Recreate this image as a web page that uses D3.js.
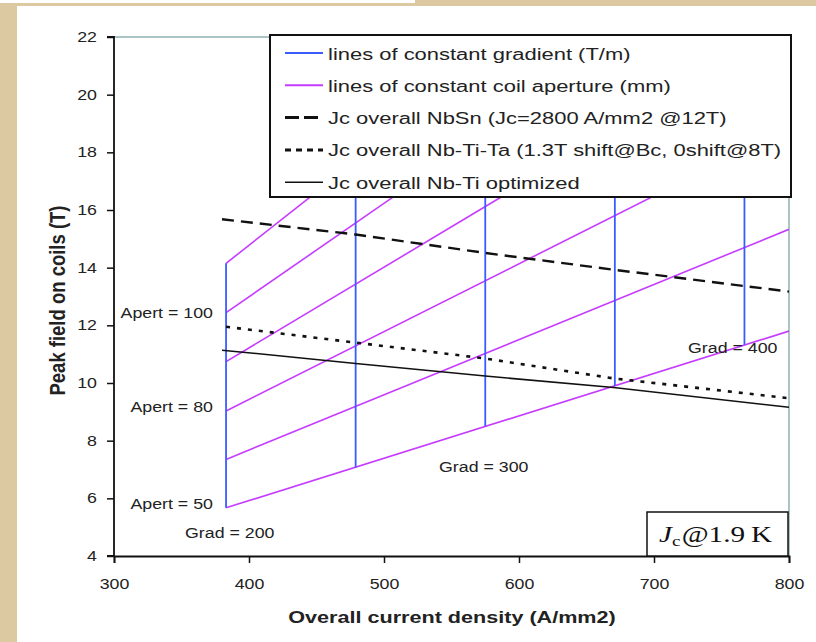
<!DOCTYPE html>
<html>
<head>
<meta charset="utf-8">
<script src="https://cdn.jsdelivr.net/npm/d3@7"></script>
<style>
  body { margin: 0; background: #dcc9a2; }
  svg { display: block; }
</style>
</head>
<body>
<div id="chart-area"></div>
<script>
// axis ticks
const xTicks = [300, 400, 500, 600, 700, 800];
const yTicks = [4, 6, 8, 10, 12, 14, 16, 18, 20, 22];

// lines of constant gradient (vertical, at fixed current density)
const gradValues = [200, 250, 300, 350, 400];
const gradJ = [383, 479, 575, 671, 767];
const gradLow = [5.67, 7.07, 8.5, 9.9, 11.33];
const gradHigh = [14.15, 17.7, 21.2, 22, 22];

// lines of constant coil aperture (start at J=383)
const apertStartJ = [383, 383, 383, 383, 383, 383];
const apertStartB = [5.67, 7.35, 9.03, 10.74, 12.44, 14.15];
const apertEndJ = [800, 800, 800, 785, 678, 596];
const apertEndB = [11.8, 15.33, 18.84, 22, 22, 22];

// Jc overall curves
const nbsnJ = [380, 479, 575, 670, 800];
const nbsnB = [15.68, 15.15, 14.51, 13.93, 13.17];
const nbtitaJ = [383, 479, 575, 670, 800];
const nbtitaB = [11.95, 11.4, 10.85, 10.16, 9.47];
const nbtiJ = [380, 479, 575, 670, 800];
const nbtiB = [11.14, 10.68, 10.24, 9.84, 9.16];

const legendLabels = [
  'lines of constant gradient (T/m)',
  'lines of constant coil aperture (mm)',
  'Jc overall NbSn (Jc=2800 A/mm2 @12T)',
  'Jc overall Nb-Ti-Ta (1.3T shift@Bc, 0shift@8T)',
  'Jc overall Nb-Ti optimized',
];

let width = 816;
let height = 642;
let blue = '#3a5cff';
let magenta = '#c63cff';
let frameColor = '#8fb3b0';
let font = 'Liberation Sans, Arial, sans-serif';
let stretch = 1.27; //the picture text is wider than it is tall

let xScale = d3.scaleLinear().domain([300, 800]).range([114, 789]);
let yScale = d3.scaleLinear().domain([4, 22]).range([556, 37]);

let chart = d3
  .select('#chart-area')
  .append('svg')
  .attr('width', width)
  .attr('height', height);

//parchment background and white panel
chart.append('rect').attr('width', width).attr('height', height).attr('fill', '#dcc9a2');
chart.append('rect').attr('x', 0).attr('y', 0).attr('width', 415).attr('height', 3).attr('fill', '#fff');
chart.append('rect').attr('x', 17).attr('y', 6).attr('width', width - 17).attr('height', height - 6).attr('fill', '#fff');

chart
  .append('clipPath')
  .attr('id', 'plot-clip')
  .append('rect')
  .attr('x', xScale(300))
  .attr('y', yScale(22))
  .attr('width', xScale(800) - xScale(300))
  .attr('height', yScale(4) - yScale(22));

//top and right frame
chart
  .append('path')
  .attr('d', `M${xScale(300)},${yScale(22)}H${xScale(800)}V${yScale(4)}`)
  .attr('fill', 'none')
  .attr('stroke', frameColor)
  .attr('stroke-width', 1.5);

let plot = chart.append('g').attr('clip-path', 'url(#plot-clip)');
let line = d3
  .line()
  .x((d) => xScale(d[0]))
  .y((d) => yScale(d[1]));

//aperture lines
plot
  .selectAll('.apert')
  .data(apertStartB)
  .enter()
  .append('path')
  .attr('class', 'apert')
  .attr('d', (d, i) => line([[apertStartJ[i], d], [apertEndJ[i], apertEndB[i]]]))
  .attr('fill', 'none')
  .attr('stroke', magenta)
  .attr('stroke-width', 1.6);

//gradient lines
plot
  .selectAll('.grad')
  .data(gradValues)
  .enter()
  .append('path')
  .attr('class', 'grad')
  .attr('d', (d, i) => line([[gradJ[i], gradLow[i]], [gradJ[i], gradHigh[i]]]))
  .attr('fill', 'none')
  .attr('stroke', blue)
  .attr('stroke-width', 1.8);

//Jc curves
let curves = [
  { j: nbsnJ, b: nbsnB, dash: '12,7', w: 2.4 },
  { j: nbtitaJ, b: nbtitaB, dash: '4,7', w: 2.6 },
  { j: nbtiJ, b: nbtiB, dash: null, w: 1.5 },
];
curves.forEach((c) => {
  plot
    .append('path')
    .attr('d', line(c.j.map((v, i) => [v, c.b[i]])))
    .attr('fill', 'none')
    .attr('stroke', '#111')
    .attr('stroke-width', c.w)
    .attr('stroke-dasharray', c.dash);
});

//axes
let xAxis = d3.axisBottom(xScale).tickValues(xTicks).tickSize(7).tickPadding(16);
let yAxis = d3.axisLeft(yScale).tickValues(yTicks).tickSize(7).tickPadding(10);
let gx = chart.append('g').attr('transform', `translate(0, ${yScale(4)})`).call(xAxis);
let gy = chart.append('g').attr('transform', `translate(${xScale(300)}, 0)`).call(yAxis);
[gx, gy].forEach((g) => {
  g.select('.domain').attr('stroke', '#111').attr('stroke-width', 1.8);
  g.selectAll('.tick line').attr('stroke', '#111').attr('stroke-width', 1.5);
  g.selectAll('.tick text')
    .attr('class', 'wide')
    .attr('font-family', font)
    .attr('font-size', 14)
    .attr('fill', '#222');
});
gy.select('.domain').attr('d', `M-7,${yScale(22)}H0V${yScale(4)}H-7`);

//axis titles
chart
  .append('text')
  .attr('class', 'wide')
  .text('Overall current density (A/mm2)')
  .attr('x', 452)
  .attr('y', 623)
  .attr('text-anchor', 'middle')
  .attr('font-family', font)
  .attr('font-weight', 'bold')
  .attr('font-size', 17)
  .attr('fill', '#222');
chart
  .append('text')
  .text('Peak field on coils (T)')
  .attr('text-anchor', 'middle')
  .attr('transform', `translate(65, ${(yScale(4) + yScale(22)) / 2 + 4}) rotate(-90) scale(1, 1.15)`)
  .attr('font-family', font)
  .attr('font-weight', 'bold')
  .attr('font-size', 18.5)
  .attr('fill', '#222');

//in-plot labels
let annotations = [
  { t: 'Apert = 100', x: 213, y: 318, a: 'end' },
  { t: 'Apert = 80', x: 213, y: 412, a: 'end' },
  { t: 'Apert = 50', x: 213, y: 509, a: 'end' },
  { t: 'Grad = 200', x: 185, y: 538, a: 'start' },
  { t: 'Grad = 300', x: 439, y: 472, a: 'start' },
  { t: 'Grad = 400', x: 688, y: 353, a: 'start' },
];
chart
  .selectAll('.annot')
  .data(annotations)
  .enter()
  .append('text')
  .attr('class', 'annot wide')
  .text((d) => d.t)
  .attr('x', (d) => d.x)
  .attr('y', (d) => d.y)
  .attr('text-anchor', (d) => d.a)
  .attr('font-family', font)
  .attr('font-size', 14)
  .attr('fill', '#222');

//Jc@1.9K box
let kb = chart.append('g');
kb.append('rect')
  .attr('x', 647)
  .attr('y', 512)
  .attr('width', 141)
  .attr('height', 44)
  .attr('fill', '#fff')
  .attr('stroke', '#111')
  .attr('stroke-width', 1.5);
let kt = kb
  .append('text')
  .attr('transform', `translate(659, 542) scale(${stretch}, 1)`)
  .attr('font-family', 'Liberation Serif, DejaVu Serif, serif')
  .attr('font-size', 23)
  .attr('fill', '#111');
kt.append('tspan').attr('font-style', 'italic').text('J');
kt.append('tspan').attr('font-size', 15).attr('dy', 4).text('c');
kt.append('tspan').attr('dy', -4).attr('dx', 1).text('@1.9\u2009K');

//legend
let legend = chart.append('g');
legend
  .append('rect')
  .attr('x', 270)
  .attr('y', 35)
  .attr('width', 521)
  .attr('height', 162)
  .attr('fill', '#fff')
  .attr('stroke', '#111')
  .attr('stroke-width', 2);
let legendStyles = [
  { c: blue, dash: null, w: 2 },
  { c: magenta, dash: null, w: 2 },
  { c: '#111', dash: '14,5', w: 3 },
  { c: '#111', dash: '6,5', w: 3 },
  { c: '#111', dash: null, w: 1.5 },
];
let items = legend
  .selectAll('.item')
  .data(legendLabels)
  .enter()
  .append('g')
  .attr('class', 'item')
  .attr('transform', (d, i) => `translate(0, ${53 + i * 32.3})`);
items
  .append('line')
  .attr('x1', 285)
  .attr('x2', 323)
  .attr('stroke', (d, i) => legendStyles[i].c)
  .attr('stroke-width', (d, i) => legendStyles[i].w)
  .attr('stroke-dasharray', (d, i) => legendStyles[i].dash);
items
  .append('text')
  .attr('class', 'wide')
  .text((d) => d)
  .attr('x', 328)
  .attr('y', 6.5)
  .attr('font-family', font)
  .attr('font-size', 17.3)
  .attr('fill', '#222');

//widen text horizontally to match the stretched picture
chart.selectAll('text.wide').each(function () {
  let len = this.getComputedTextLength();
  d3.select(this)
    .attr('textLength', len * stretch)
    .attr('lengthAdjust', 'spacingAndGlyphs');
});
</script>
</body>
</html>
